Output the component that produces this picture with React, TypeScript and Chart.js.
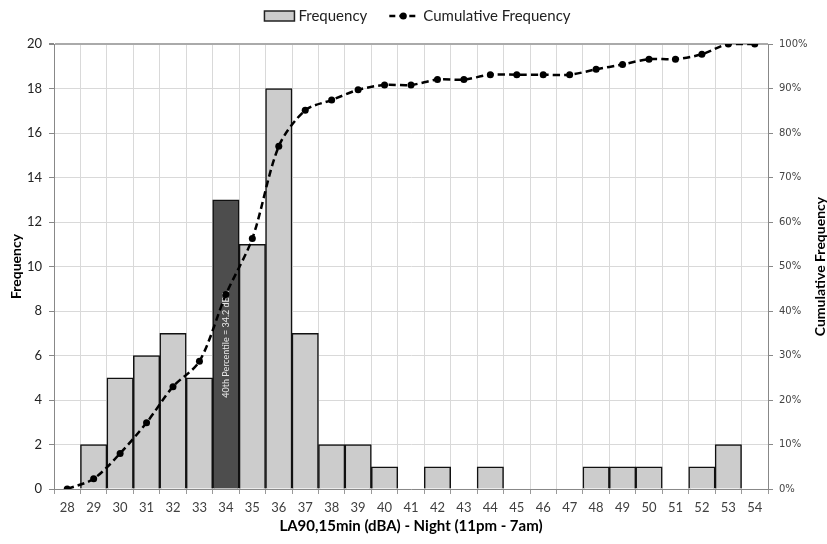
import React, { useEffect, useRef } from "react";
import { Chart, registerables } from "chart.js";

Chart.register(...registerables);

const categories = ["28","29","30","31","32","33","34","35","36","37","38","39","40","41","42","43","44","45","46","47","48","49","50","51","52","53","54"];
const frequency = [0,2,5,6,7,5,13,11,18,7,2,2,1,0,1,0,1,0,0,0,1,1,1,0,1,2,0];
const cumulativePct = [0,2.3,8.0,14.9,23.0,28.7,43.7,56.3,77.0,85.1,87.4,89.7,90.8,90.8,92.0,92.0,93.1,93.1,93.1,93.1,94.3,95.4,96.6,96.6,97.7,100,100];
const highlightCategory = "34";
const annotationText = "40th Percentile = 34.2 dBA";
const freqLabel = "Frequency";
const cumLabel = "Cumulative Frequency";
const xTitle = "LA90,15min (dBA) - Night (11pm - 7am)";
const yTitle = "Frequency";
const y2Title = "Cumulative Frequency";

const FONT = "Lato, 'Open Sans', sans-serif";

export default function App() {
  const ref = useRef<HTMLCanvasElement>(null);

  useEffect(() => {
    const canvas = ref.current;
    if (!canvas) return;
    const hi = categories.indexOf(highlightCategory);

    const annotationPlugin = {
      id: "pctAnnotation",
      afterDatasetDraw(chart: any, args: any) {
        if (args.index !== 0) return;
        const bar: any = chart.getDatasetMeta(0).data[hi];
        if (!bar) return;
        const ctx = chart.ctx;
        ctx.save();
        ctx.translate(bar.x, (bar.y + bar.base) / 2);
        ctx.rotate(-Math.PI / 2);
        ctx.fillStyle = "#e8e8e8";
        ctx.font = `9px ${FONT}`;
        ctx.textAlign = "center";
        ctx.textBaseline = "middle";
        ctx.fillText(annotationText, 0, 0);
        ctx.restore();
      },
    };

    const extrasPlugin = {
      id: "extras",
      afterDraw(chart: any) {
        const ctx = chart.ctx;
        const area = chart.chartArea;
        // legend
        ctx.save();
        ctx.font = `15px ${FONT}`;
        const w1 = ctx.measureText(freqLabel).width;
        const w2 = ctx.measureText(cumLabel).width;
        const boxW = 30, boxH = 10, gap = 4, spacing = 22, lineW = 28, gap2 = 6;
        const total = boxW + gap + w1 + spacing + lineW + gap2 + w2;
        let x = chart.width / 2 + 4 - total / 2;
        const cy = 16;
        ctx.fillStyle = "#cccccc";
        ctx.fillRect(x, cy - boxH / 2, boxW, boxH);
        ctx.strokeStyle = "#222";
        ctx.lineWidth = 1.5;
        ctx.strokeRect(x, cy - boxH / 2, boxW, boxH);
        x += boxW + gap;
        ctx.fillStyle = "#222";
        ctx.textAlign = "left";
        ctx.textBaseline = "middle";
        ctx.fillText(freqLabel, x, cy);
        x += w1 + spacing;
        ctx.strokeStyle = "#000";
        ctx.lineWidth = 2.5;
        ctx.setLineDash([6, 4]);
        ctx.beginPath();
        ctx.moveTo(x, cy);
        ctx.lineTo(x + lineW, cy);
        ctx.stroke();
        ctx.setLineDash([]);
        ctx.fillStyle = "#000";
        ctx.beginPath();
        ctx.arc(x + lineW / 2, cy, 3.5, 0, Math.PI * 2);
        ctx.fill();
        x += lineW + gap2;
        ctx.fillStyle = "#222";
        ctx.fillText(cumLabel, x, cy);
        ctx.restore();

        // right axis title
        ctx.save();
        ctx.translate(820, (area.top + area.bottom) / 2);
        ctx.rotate(-Math.PI / 2);
        ctx.font = `bold 14px ${FONT}`;
        ctx.fillStyle = "#000";
        ctx.textAlign = "center";
        ctx.textBaseline = "middle";
        ctx.fillText(y2Title, 0, 0);
        ctx.restore();
      },
    };

    const chart = new Chart(canvas, {
      type: "bar",
      data: {
        labels: categories,
        datasets: [
          {
            type: "bar",
            label: freqLabel,
            data: frequency,
            yAxisID: "y",
            backgroundColor: frequency.map((_, i) => (i === hi ? "#4d4d4d" : "#cccccc")),
            borderColor: "#111",
            borderWidth: 1.5,
            barPercentage: 1,
            categoryPercentage: 1,
            order: 1,
          },
          {
            type: "line",
            label: cumLabel,
            data: cumulativePct,
            yAxisID: "y2",
            borderColor: "#000",
            borderWidth: 2.5,
            borderDash: [7, 4],
            pointRadius: 3.5,
            pointBackgroundColor: "#000",
            pointBorderColor: "#000",
            pointBorderWidth: 0,
            tension: 0.3,
            order: 0,
          },
        ] as any,
      },
      options: {
        animation: false,
        responsive: false,
        layout: { padding: { top: 44, left: 0, right: 0, bottom: 0 } },
        plugins: { legend: { display: false }, tooltip: { enabled: false } },
        scales: {
          x: {
            type: "category",
            grid: { color: "#d9d9d9", offset: true, tickLength: 5, tickColor: "#999" },
            border: { color: "#888" },
            ticks: { font: { family: FONT, size: 13 }, color: "#404040", padding: 6, maxRotation: 0, autoSkip: false },
            title: {
              display: true,
              text: xTitle,
              font: { family: FONT, size: 15, weight: "bold", lineHeight: 1 },
              color: "#000",
              padding: { top: 0, bottom: 10 },
            },
            afterFit: (s: any) => { s.height = 55; },
          },
          y: {
            position: "left",
            min: 0,
            max: 20,
            ticks: { stepSize: 2, font: { family: FONT, size: 13 }, color: "#222", padding: 7 },
            grid: {
              color: (c: any) => (c.tick && c.tick.value === 20 ? "#aaaaaa" : "#d9d9d9"),
              lineWidth: (c: any) => (c.tick && c.tick.value === 20 ? 2 : 1),
              tickLength: 5,
              tickColor: "#888",
            },
            border: { color: "#888" },
            title: {
              display: true,
              text: yTitle,
              font: { family: FONT, size: 14, weight: "bold", lineHeight: 1 },
              color: "#000",
              padding: { top: 9, bottom: 0 },
            },
            afterFit: (s: any) => { s.width = 54; },
          },
          y2: {
            position: "right",
            min: 0,
            max: 100,
            ticks: {
              stepSize: 10,
              font: { family: "'DejaVu Sans', sans-serif", size: 10 },
              color: "#444",
              padding: 6,
              callback: (v: any) => `${v}%`,
            },
            grid: { drawOnChartArea: false, tickLength: 5, tickColor: "#888" },
            border: { color: "#888" },
            afterFit: (s: any) => { s.width = 59; },
          },
        },
      } as any,
      plugins: [annotationPlugin, extrasPlugin],
    });

    return () => chart.destroy();
  }, []);

  return (
    <div style={{ position: "fixed", left: 0, top: 0, width: 827, height: 544, background: "#fff" }}>
      <canvas ref={ref} width={827} height={544} style={{ display: "block" }} />
    </div>
  );
}
